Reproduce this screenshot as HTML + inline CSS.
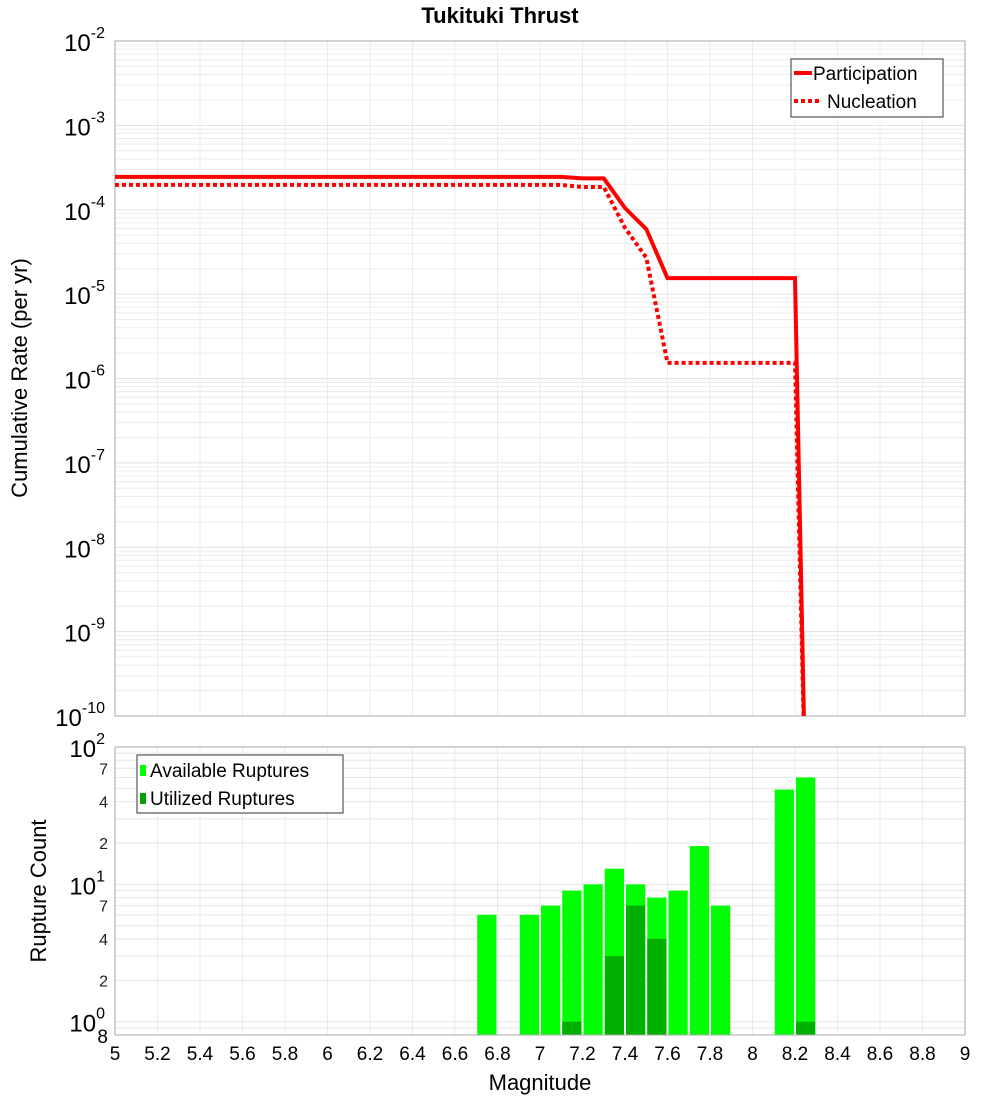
<!DOCTYPE html>
<html><head><meta charset="utf-8"><style>
body{margin:0;background:#fff;}
svg{display:block;font-family:"Liberation Sans","DejaVu Sans",sans-serif;}
</style></head><body>
<svg id="chart" width="1000" height="1100" viewBox="0 0 1000 1100" xmlns="http://www.w3.org/2000/svg">
<text x="500" y="23" text-anchor="middle" font-size="22" font-weight="bold">Tukituki Thrust</text>
<g id="topplot"></g>
<g id="botplot"></g>
<text transform="translate(27,378) rotate(-90)" text-anchor="middle" font-size="22">Cumulative Rate (per yr)</text>
<text transform="translate(46,891) rotate(-90)" text-anchor="middle" font-size="22">Rupture Count</text>
<text x="540" y="1090" text-anchor="middle" font-size="22">Magnitude</text>
</svg>
<script>
const magPoints = [5.0,5.1,5.2,5.3,5.4,5.5,5.6,5.7,5.8,5.9,6.0,6.1,6.2,6.3,6.4,6.5,6.6,6.7,6.8,6.9,7.0,7.1,7.2,7.3,7.4,7.5,7.6,7.7,7.8,7.9,8.0,8.1,8.2,8.25];
const participation = [2.45e-4,2.45e-4,2.45e-4,2.45e-4,2.45e-4,2.45e-4,2.45e-4,2.45e-4,2.45e-4,2.45e-4,2.45e-4,2.45e-4,2.45e-4,2.45e-4,2.45e-4,2.45e-4,2.45e-4,2.45e-4,2.45e-4,2.45e-4,2.45e-4,2.45e-4,2.35e-4,2.35e-4,1.05e-4,5.9e-5,1.55e-5,1.55e-5,1.55e-5,1.55e-5,1.55e-5,1.55e-5,1.55e-5,1e-11];
const nucleation = [1.97e-4,1.97e-4,1.97e-4,1.97e-4,1.97e-4,1.97e-4,1.97e-4,1.97e-4,1.97e-4,1.97e-4,1.97e-4,1.97e-4,1.97e-4,1.97e-4,1.97e-4,1.97e-4,1.97e-4,1.97e-4,1.97e-4,1.97e-4,1.97e-4,1.97e-4,1.86e-4,1.86e-4,6.1e-5,2.7e-5,1.53e-6,1.53e-6,1.53e-6,1.53e-6,1.53e-6,1.53e-6,1.53e-6,1e-11];
const binCenters = [6.75,6.95,7.05,7.15,7.25,7.35,7.45,7.55,7.65,7.75,7.85,8.15,8.25];
const available = [6,6,7,9,10,13,10,8,9,19,7,49,60];
const utilized = [0,0,0,1,0,3,7,4,0,0,0,0,1];
const xTicks = [5,5.2,5.4,5.6,5.8,6,6.2,6.4,6.6,6.8,7,7.2,7.4,7.6,7.8,8,8.2,8.4,8.6,8.8,9];
const xTickLabels = ["5","5.2","5.4","5.6","5.8","6","6.2","6.4","6.6","6.8","7","7.2","7.4","7.6","7.8","8","8.2","8.4","8.6","8.8","9"];
const topDecades = [-10,-9,-8,-7,-6,-5,-4,-3,-2];
const botMinor = [2,4,7];

const NS="http://www.w3.org/2000/svg";
const X0=115,X1=965;
const xs=m=>X0+(m-5)/4*(X1-X0);
const TY0=41,TY1=716;
const ty=v=>TY0+(-2-Math.log10(v))/8*(TY1-TY0);
const BY0=747,BY1=1035;
const bDec=(BY1-BY0)/Math.log10(100/0.8);
const byv=v=>BY0+(2-Math.log10(v))*bDec;
function mk(parent,tag,attrs,text){const e=document.createElementNS(NS,tag);for(const k in attrs)e.setAttribute(k,attrs[k]);if(text!==undefined)e.textContent=text;parent.appendChild(e);return e;}
const gTop=document.getElementById('topplot'), gBot=document.getElementById('botplot');

for(let d=-10;d<-2;d++){for(let k=1;k<10;k++){const y=ty(k*Math.pow(10,d));const g=mk(gTop,'line',{x1:X0,x2:X1,y1:y,y2:y,stroke:k==1?'#e0e0e0':'#ececec','stroke-width':1});

}}
xTicks.forEach(t=>{const g=mk(gTop,'line',{x1:xs(t),x2:xs(t),y1:TY0,y2:TY1,stroke:'#ebebeb'});

});
const tf=mk(gTop,'rect',{x:X0,y:TY0,width:X1-X0,height:TY1-TY0,fill:'none',stroke:'#aaa'});


topDecades.forEach(d=>{const y=ty(Math.pow(10,d));const t=mk(gTop,'text',{x:105,y:y+10,'text-anchor':'end','font-size':24});


mk(t,'tspan',{},'10');mk(t,'tspan',{dy:-13,'font-size':16},String(d));});

const clipP=mk(gTop,'clipPath',{id:'cp'});mk(clipP,'rect',{x:X0,y:TY0,width:X1-X0,height:TY1-TY0});
function path(vals){return vals.map((v,i)=>(i?'L':'M')+xs(magPoints[i]).toFixed(1)+','+ty(v).toFixed(1)).join(' ');}
const np=mk(gTop,'path',{d:path(nucleation),fill:'none',stroke:'#ff0000','stroke-width':4,'stroke-dasharray':'4,3','clip-path':'url(#cp)'});


const pp=mk(gTop,'path',{d:path(participation),fill:'none',stroke:'#ff0000','stroke-width':4,'clip-path':'url(#cp)'});



const lg=mk(gTop,'g',{});


mk(lg,'rect',{x:791,y:59,width:152,height:58,fill:'#fff',stroke:'#333'});
mk(lg,'line',{x1:794,x2:812,y1:73,y2:73,stroke:'#f00','stroke-width':4});
mk(lg,'text',{x:813,y:80,'font-size':19},'Participation');
mk(lg,'line',{x1:794,x2:822,y1:101,y2:101,stroke:'#f00','stroke-width':4,'stroke-dasharray':'4,3'});
mk(lg,'text',{x:827,y:108,'font-size':19},'Nucleation');

for(let d=-1;d<2;d++){for(let k=1;k<10;k++){const v=k*Math.pow(10,d);if(v<0.8||v>100)continue;const y=byv(v);const g=mk(gBot,'line',{x1:X0,x2:X1,y1:y,y2:y,stroke:'#e6e6e6'});

}}
xTicks.forEach(t=>{const g=mk(gBot,'line',{x1:xs(t),x2:xs(t),y1:BY0,y2:BY1,stroke:'#ebebeb'});

});
const bw=0.1*(X1-X0)/4;
binCenters.forEach((c,i)=>{
 const x=xs(c)-bw/2+1;
 const r=mk(gBot,'rect',{x:x,y:byv(available[i]),width:bw-2,height:BY1-byv(available[i]),fill:'#00ff00'});
 
 
 if(utilized[i]>0){const u=mk(gBot,'rect',{x:x,y:byv(utilized[i]),width:bw-2,height:BY1-byv(utilized[i]),fill:'#00b000'});
 
 }
});
const bf=mk(gBot,'rect',{x:X0,y:BY0,width:X1-X0,height:BY1-BY0,fill:'none',stroke:'#aaa'});


[0,1,2].forEach(d=>{const y=byv(Math.pow(10,d));const t=mk(gBot,'text',{x:105,y:y+10,'text-anchor':'end','font-size':24});


mk(t,'tspan',{},'10');mk(t,'tspan',{dy:-13,'font-size':16},String(d));});
[0,1].forEach(d=>botMinor.forEach(k=>{const v=k*Math.pow(10,d);const t=mk(gBot,'text',{x:108,y:byv(v)+6,'text-anchor':'end','font-size':16,fill:'#222'},String(k));

}));
const t8=mk(gBot,'text',{x:108,y:byv(0.8)+8,'text-anchor':'end','font-size':19},'8');


xTicks.forEach((t,i)=>{const e=mk(gBot,'text',{x:xs(t),y:1060,'text-anchor':'middle','font-size':19},xTickLabels[i]);

});
const bl=mk(gBot,'g',{});


mk(bl,'rect',{x:137,y:755,width:206,height:58,fill:'#fff',stroke:'#333'});
mk(bl,'rect',{x:140,y:765,width:6,height:11,fill:'#00ff00'});
mk(bl,'text',{x:150,y:777,'font-size':19},'Available Ruptures');
mk(bl,'rect',{x:140,y:793,width:6,height:11,fill:'#00a000'});
mk(bl,'text',{x:150,y:805,'font-size':19},'Utilized Ruptures');
</script>
</body></html>
